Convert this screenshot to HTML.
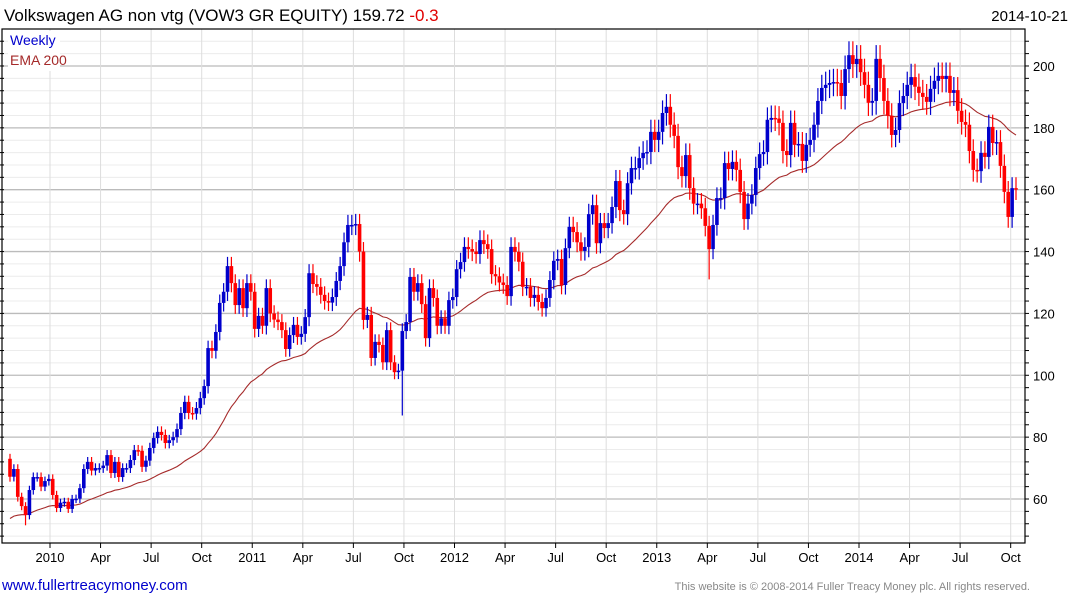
<!DOCTYPE html>
<html><head><meta charset="utf-8">
<style>
body{margin:0;background:#fff;width:1075px;height:600px;overflow:hidden;font-family:"Liberation Sans",sans-serif;}
svg{display:block}
</style></head>
<body>
<svg id="chart" width="1075" height="600" xmlns="http://www.w3.org/2000/svg">
<text x="4" y="21" font-size="17" fill="#000">Volkswagen AG non vtg (VOW3 GR EQUITY) 159.72 <tspan fill="#e00000">-0.3</tspan></text>
<text x="1068" y="21" font-size="15" text-anchor="end" fill="#000">2014-10-21</text>
<g id="grid"></g>
<g id="ema"></g>
<g id="candles"></g>
<rect x="2" y="29" width="1023" height="514" fill="none" stroke="#000" stroke-width="1.2"/>
<g id="axes"></g>
<rect x="8" y="31" width="52" height="40" fill="#fff"/>
<text x="10" y="45" font-size="14" fill="#0000cc">Weekly</text>
<text x="10" y="65" font-size="14" fill="#a52a2a">EMA 200</text>
<text x="2" y="590" font-size="15" fill="#0000cc">www.fullertreacymoney.com</text>
<text x="1030" y="590" font-size="11" text-anchor="end" fill="#888">This website is © 2008-2014 Fuller Treacy Money plc. All rights reserved.</text>
</svg>
<script>
const closes = [67.2,69.7,60.7,57.7,54.8,62.9,67.1,67.1,64,65.8,66.5,61.3,57.1,58.8,59.1,56.8,60,60.1,63.5,69.7,72,69.2,70,70,70.8,74.2,68.4,72,67.1,70,70,72.6,75.8,75.6,70.4,72.4,76.5,79.7,81.7,80.7,78.1,79,80,82.6,87.8,91.4,87.8,87.6,89.4,92.6,96.5,108.8,107.9,114,123.4,127,135.3,129.8,122.7,128.2,121.7,129.8,127,
115,119.2,116,128.2,120,118,117.2,114.6,108.5,113,116.3,112.4,113.4,118.8,133,129.5,128.6,126,124,123.5,125.3,130.5,135.3,143,148.6,148.6,148.9,140,117.9,119.5,105.6,110.8,109.8,104.2,114.6,104.2,101,101.5,114.3,117.2,131.8,127,129.8,123,112,128.2,125,116,118.4,116,124.3,125.3,134.3,136.6,141.5,140.8,140,139.2,143.7,142.4,140.8,132.7,132,130,129.2,125.6,
141.5,139.9,136.7,128.6,128.6,125,126,123.7,121.7,125,130.8,137,137.6,129.2,141.1,148,146.3,143,140.2,141.5,152.1,155,142.7,149.2,147.6,149.2,154.4,162.8,153.4,152.1,162.1,167,167,170.2,171.9,172.2,178.7,176.1,178.7,184.8,186.8,181,177.4,167.3,164.4,171.2,160.5,155.5,155.5,154,148.3,140.8,148.6,157.3,157.3,168.6,166.7,169,166.4,159.3,150.5,155.5,158.3,167,171.5,172.2,182.6,
183.2,183,181.6,172.5,171.2,181.6,174.5,174.8,169.3,174.5,176.1,181,188.7,192.9,193.9,194.5,194.8,194.5,190.3,199,203.5,200.6,202.3,198,193.9,188.1,188.7,202.3,196.1,188.7,183.9,177.7,179.3,188,190.3,193.9,196.4,193.3,191.3,190,188.4,192.6,195.2,196.8,195.8,196.8,191.3,192.2,185.5,181.9,181,172.5,166.4,166,171.9,170.6,180.3,175.1,175.4,167.7,159.3,151.2,160.5,160.2];
const firstOpen = 73;
const spikeIdx = [4, 101, 180];
const spikeLow = [51.5, 87, 131];
const yTicks = [60,80,100,120,140,160,180,200];
const xTickLabels = ["2010","Apr","Jul","Oct","2011","Apr","Jul","Oct","2012","Apr","Jul","Oct","2013","Apr","Jul","Oct","2014","Apr","Jul","Oct"];
const emaSeed = 53;
const emaPeriod = 40;

const NS="http://www.w3.org/2000/svg";
const L=2,R=1025,T=29,B=543;
const y=v=>499-(v-60)*61.86/20;
const n=closes.length;
const x=i=>10+i*(1016-10)/(n-1);
const qx=k=>50+k*(859-50)/16;
function mk(tag,attrs,parent){const e=document.createElementNS(NS,tag);for(const k in attrs)e.setAttribute(k,attrs[k]);parent.appendChild(e);return e;}
const grid=document.getElementById('grid'),axes=document.getElementById('axes');
for(let v=44;v<=212;v+=4){const yy=y(v);if(yy<T||yy>B)continue;
 const major=v%20===0;
 const ln=mk('line',{x1:L,x2:R,y1:yy,y2:yy,stroke:major?'#bbb':'#ececec','stroke-width':major?1.3:1},grid);
 
 
 const t=mk('line',{x1:R,x2:R+4,y1:yy,y2:yy,stroke:'#000'},axes);
 
 
 const t2=mk('line',{x1:L-2,x2:L+2,y1:yy,y2:yy,stroke:'#000'},axes);
 
 
}
yTicks.forEach(v=>{const t=mk('text',{x:R+8,y:y(v)+5,'font-size':13,fill:'#000'},axes);t.textContent=v;
 
 });
xTickLabels.forEach((lab,k)=>{const xx=qx(k);
 const g=mk('line',{x1:xx,x2:xx,y1:T,y2:B,stroke:'#ddd'},grid);
 
 
 const tk=mk('line',{x1:xx,x2:xx,y1:B,y2:B+5,stroke:'#000'},axes);
 
 
 const t=mk('text',{x:xx,y:562,'font-size':13,'text-anchor':'middle',fill:'#000'},axes);t.textContent=lab;
 
 });
const cg=document.getElementById('candles');
let prev=firstOpen;
for(let i=0;i<n;i++){
 const o=prev,c=closes[i];prev=c;
 const up=c>=o,col=up?'#0000cc':'#ff0000';
 const w=Math.max(o,c)*0.022;
 let lo=Math.min(o,c)-w;const hi=Math.max(o,c)+w;
 const si=spikeIdx.indexOf(i);if(si>=0)lo=spikeLow[si];
 const xx=x(i);
 const wk=mk('line',{x1:xx,x2:xx,y1:y(hi),y2:y(lo),stroke:col,'stroke-width':1.2},cg);
 
 
 const top=y(Math.max(o,c)),bh=Math.max(1.5,y(Math.min(o,c))-top);
 const b=mk('rect',{x:xx-1.8,y:top,width:3.6,height:bh,fill:col},cg);
 
 
}
let e=emaSeed;const a=2/(emaPeriod+1);let d='';
for(let i=0;i<n;i++){e=e+a*(closes[i]-e);d+=(i?'L':'M')+x(i).toFixed(1)+' '+y(e).toFixed(1);}
const p=mk('path',{d:d,fill:'none',stroke:'#a52a2a','stroke-width':1.1},document.getElementById('ema'));


</script>
</body></html>
